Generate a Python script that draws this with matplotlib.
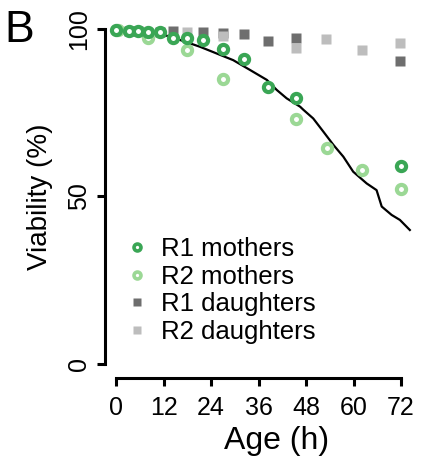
import matplotlib
matplotlib.use("Agg")
import matplotlib.pyplot as plt
from matplotlib.lines import Line2D

plt.rcParams['font.family'] = ['Liberation Sans', 'DejaVu Sans']

# values (age in h, viability in %)
r1_mothers_t = [0, 3.3, 5.6, 8.2, 11.1, 14.5, 17.9, 22, 27, 32.3, 38.4, 45.4, 71.9]
r1_mothers_v = [99.6, 99.4, 99.4, 99.2, 99.2, 97.2, 97.2, 96.7, 94, 91, 82.8, 79.5, 59.2]

r2_mothers_t = [0.4, 8.2, 17.9, 27, 45.4, 53.2, 62, 71.9]
r2_mothers_v = [99.7, 97.2, 93.7, 85, 73.2, 64.6, 58, 52.1]

r1_daughters_t = [3.3, 5.6, 11.1, 14.5, 22, 27, 32.3, 38.4, 45.4, 71.7]
r1_daughters_v = [99.4, 99.4, 99.2, 99.4, 99.2, 98.8, 98.4, 96.4, 97.2, 90.4]

r2_daughters_t = [17.9, 27, 45.4, 53, 62, 71.7]
r2_daughters_v = [99.2, 97.9, 94.2, 97, 93.7, 95.7]

curve_t = [0, 4, 8, 12, 16, 21.2, 25.4, 29.6, 33.8, 38.1, 40.6, 43.1, 46.5,
           47.3, 49.8, 52.4, 54.9, 57.4, 59.9, 63.3, 65.8, 67.1, 69.6, 71.7, 74.2]
curve_v = [100, 99.8, 99.3, 98.3, 96.8, 94.7, 92.7, 90.7, 87.8, 84.8, 81.8, 79.3, 76.8,
           75.9, 73.3, 69.3, 65.4, 61.9, 57.4, 53.9, 51.9, 47, 44.5, 43, 40]

x_ticks = [0, 12, 24, 36, 48, 60, 72]
y_ticks = [0, 50, 100]

dark_green = '#3aa655'
light_green = '#9bd895'
dark_gray = '#6e6e6e'
light_gray = '#bdbdbd'

fig = plt.figure(figsize=(4.21, 4.63), dpi=100)
ax = fig.add_axes([116 / 421, 99 / 463, 297 / 421, 335 / 463])

ax.plot(curve_t, curve_v, color='black', lw=1.6, zorder=2)

sq = dict(marker='s', ms=6.5, ls='none', mec='none', clip_on=False, zorder=1)
ax.plot(r1_daughters_t, r1_daughters_v, color=dark_gray, **sq)
ax.plot(r2_daughters_t, r2_daughters_v, color=light_gray, **sq)

circ = dict(marker='o', ms=6.6, mew=3, mfc='white', ls='none', clip_on=False, zorder=3)
ax.plot(r2_mothers_t, r2_mothers_v, mec=light_green, **circ)
ax.plot(r1_mothers_t, r1_mothers_v, mec=dark_green, **circ)

ax.set_xlim(0, 75)
ax.set_ylim(0, 100)
ax.spines['top'].set_visible(False)
ax.spines['right'].set_visible(False)
ax.spines['left'].set_position(('outward', 8))
ax.spines['bottom'].set_position(('outward', 10))
ax.spines['left'].set_bounds(0, 100)
ax.spines['bottom'].set_bounds(0, 72)
for s in ['left', 'bottom']:
    ax.spines[s].set_linewidth(2.2)
ax.set_xticks(x_ticks)
ax.set_yticks(y_ticks)
ax.tick_params(width=2.2, length=6, labelsize=18, pad=4)
ax.tick_params(axis='x', pad=7)
for lab in ax.get_yticklabels():
    lab.set_rotation(90)
    lab.set_va('center')

ax.set_xlabel('Age (h)', fontsize=23)
ax.xaxis.set_label_coords(0.54, -0.185)
ax.set_ylabel('Viability (%)', fontsize=20, labelpad=10)

handles = [
    Line2D([], [], marker='o', ms=5, mew=2.6, mfc='white', mec=dark_green, ls='none'),
    Line2D([], [], marker='o', ms=5, mew=2.6, mfc='white', mec=light_green, ls='none'),
    Line2D([], [], marker='s', ms=6, mec='none', color=dark_gray, ls='none'),
    Line2D([], [], marker='s', ms=6, mec='none', color=light_gray, ls='none'),
]
ax.legend(handles, ['R1 mothers', 'R2 mothers', 'R1 daughters', 'R2 daughters'],
          loc='upper left', bbox_to_anchor=(0.035, 0.38), frameon=False,
          fontsize=18.5, handlelength=0.8, handletextpad=0.55, labelspacing=0.15,
          borderpad=0, borderaxespad=0)

fig.text(4 / 421, 1 - 10 / 463, 'B', fontsize=32, ha='left', va='top')

fig.savefig('out.png', dpi=100)
